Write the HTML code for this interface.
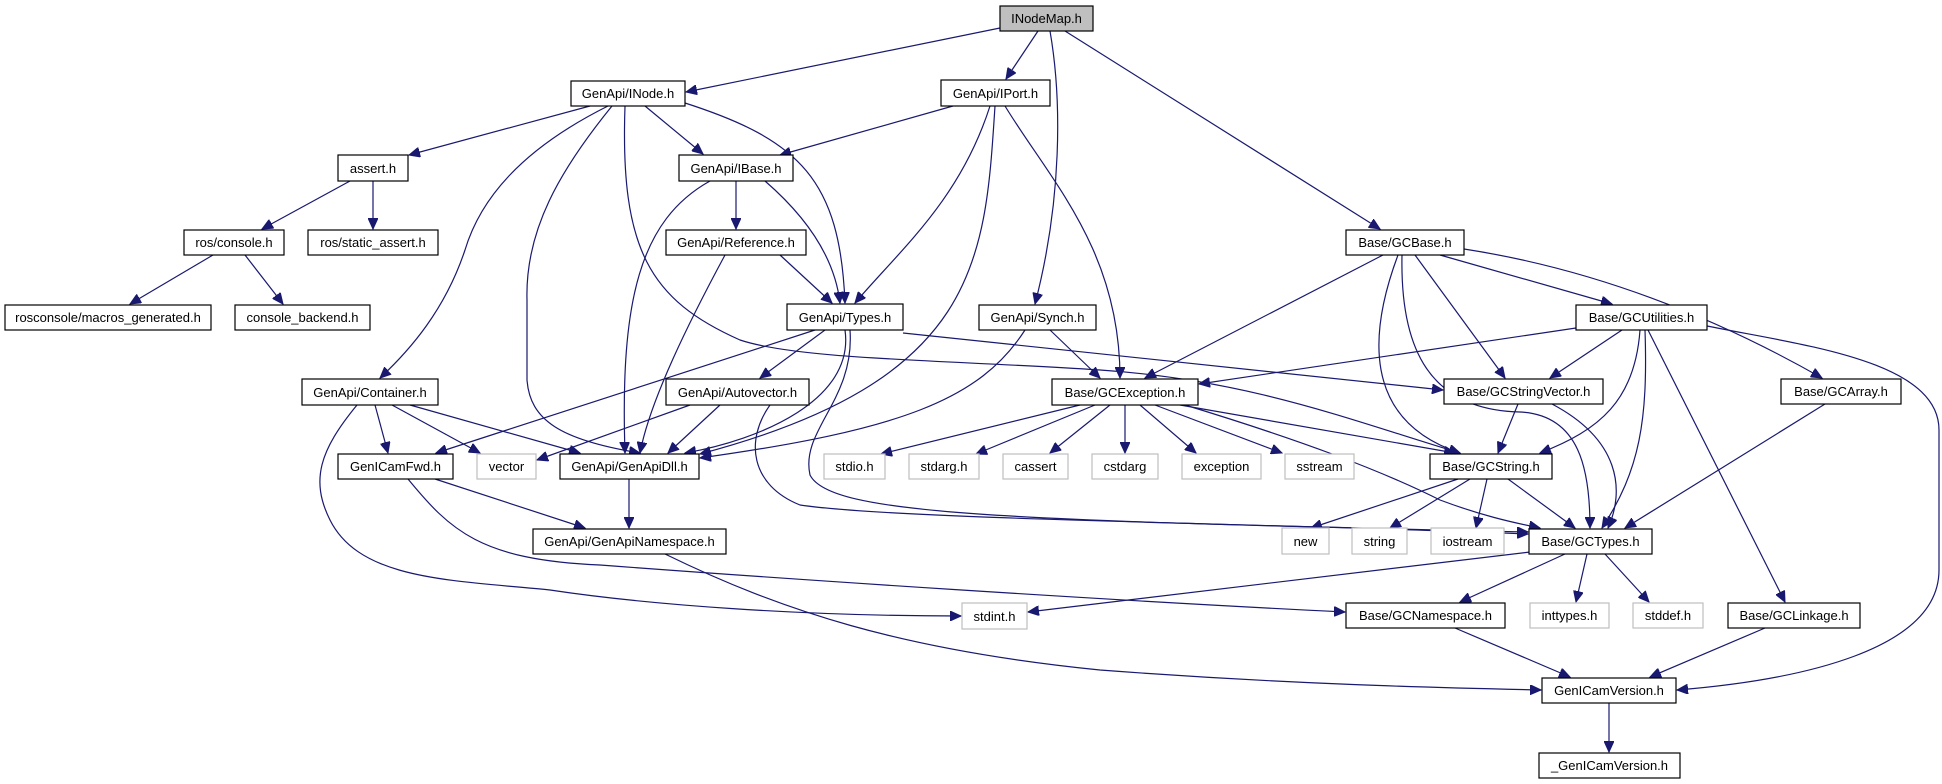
<!DOCTYPE html>
<html><head><meta charset="utf-8"><style>
html,body{margin:0;padding:0;background:#fff;}
svg{display:block;}
text{font-family:"Liberation Sans",Arial,sans-serif;font-size:13px;fill:#000;}
</style></head><body>
<svg width="1942" height="784" viewBox="0 0 1942 784" xmlns="http://www.w3.org/2000/svg">
<defs>
<marker id="a" markerUnits="userSpaceOnUse" markerWidth="12" markerHeight="10" refX="11" refY="5" orient="auto">
<path d="M0,0 L11,5 L0,10 z" fill="#191970" stroke="#191970"/>
</marker>
</defs>
<g fill="none" stroke="#191970" stroke-width="1.2" marker-end="url(#a)">
<path d="M1000,28 L686,92"/>
<path d="M1038,31 L1006,79"/>
<path d="M1050,31 C1062,100 1062,200 1035,304"/>
<path d="M1065,31 L1380,229"/>
<path d="M590,106 L409,155"/>
<path d="M645,106 L703,154"/>
<path d="M685,103 C800,140 840,180 845,303"/>
<path d="M608,106 C520,150 480,200 465,250 C445,310 410,350 380,378"/>
<path d="M612,106 C560,170 525,230 527,300 L527,380 C530,420 560,440 640,453"/>
<path d="M625,106 C620,250 650,300 740,340 C800,360 950,360 1100,370 C1250,380 1350,420 1460,453"/>
<path d="M953,106 L780,155"/>
<path d="M990,106 C960,200 900,250 855,303"/>
<path d="M995,106 C985,260 980,380 700,454"/>
<path d="M1005,106 C1050,180 1120,250 1120,378"/>
<path d="M736,181 L736,229"/>
<path d="M765,181 C810,220 835,260 840,303"/>
<path d="M710,181 C640,220 620,300 625,453"/>
<path d="M780,255 L832,303"/>
<path d="M725,255 C690,320 650,400 640,453"/>
<path d="M350,181 L262,229"/>
<path d="M373,181 L373,229"/>
<path d="M213,255 L130,304"/>
<path d="M245,255 L283,304"/>
<path d="M815,330 L436,453"/>
<path d="M825,330 L760,378"/>
<path d="M845,330 C855,400 760,440 685,453"/>
<path d="M850,330 C855,400 800,430 810,475 C830,515 1000,520 1528,532"/>
<path d="M903,333 L1443,390"/>
<path d="M690,405 L537,460"/>
<path d="M720,405 L668,453"/>
<path d="M770,405 C745,440 750,485 800,505 C900,520 1300,524 1528,534"/>
<path d="M375,405 L388,453"/>
<path d="M392,405 L480,453"/>
<path d="M410,405 L580,453"/>
<path d="M357,405 C320,450 310,480 330,520 C360,580 450,580 550,590 C650,605 800,616 961,616"/>
<path d="M435,479 L585,528"/>
<path d="M408,479 C450,530 480,560 600,565 C800,580 1100,600 1345,612"/>
<path d="M629,479 L629,528"/>
<path d="M665,554 C780,610 900,650 1100,670 C1300,685 1450,688 1541,690"/>
<path d="M1050,330 L1100,378"/>
<path d="M1025,330 C980,400 900,430 700,458"/>
<path d="M1383,255 L1145,378"/>
<path d="M1440,255 L1612,304"/>
<path d="M1415,255 L1505,378"/>
<path d="M1398,255 C1370,330 1360,420 1460,453"/>
<path d="M1402,255 C1400,350 1430,410 1520,412 C1580,415 1590,470 1590,528"/>
<path d="M1464,249 C1600,270 1720,320 1822,378"/>
<path d="M1576,328 L1199,384"/>
<path d="M1622,330 L1550,378"/>
<path d="M1640,330 C1635,400 1600,430 1540,453"/>
<path d="M1645,330 C1648,420 1640,470 1602,528"/>
<path d="M1648,330 L1785,602"/>
<path d="M1707,326 C1800,345 1939,360 1939,430 L1939,570 C1939,650 1800,680 1677,690"/>
<path d="M1518,404 L1498,453"/>
<path d="M1552,404 C1620,440 1625,490 1608,528"/>
<path d="M1825,404 L1625,528"/>
<path d="M1080,405 L881,454"/>
<path d="M1095,405 L976,454"/>
<path d="M1110,405 L1050,453"/>
<path d="M1125,405 L1125,453"/>
<path d="M1140,405 L1196,453"/>
<path d="M1155,405 L1282,453"/>
<path d="M1180,405 L1455,453"/>
<path d="M1185,405 C1300,440 1380,470 1440,500 C1480,515 1510,522 1540,528"/>
<path d="M1458,479 L1311,528"/>
<path d="M1470,479 L1390,528"/>
<path d="M1487,479 L1476,528"/>
<path d="M1508,479 L1575,528"/>
<path d="M1530,552 L1028,612"/>
<path d="M1565,554 L1460,602"/>
<path d="M1587,554 L1576,602"/>
<path d="M1605,554 L1649,602"/>
<path d="M1455,628 L1570,677"/>
<path d="M1765,628 L1650,677"/>
<path d="M1609,703 L1609,752"/>
</g>
<g stroke-width="1.2">
<g fill="#fff" stroke="#000">
<rect x="571" y="81" width="114" height="25"/>
<rect x="941" y="80" width="109" height="26"/>
<rect x="338" y="155" width="70" height="26"/>
<rect x="679" y="155" width="114" height="26"/>
<rect x="184" y="230" width="100" height="25"/>
<rect x="308" y="230" width="130" height="25"/>
<rect x="666" y="230" width="140" height="25"/>
<rect x="1346" y="230" width="118" height="25"/>
<rect x="5" y="305" width="206" height="25"/>
<rect x="235" y="305" width="135" height="25"/>
<rect x="787" y="304" width="116" height="26"/>
<rect x="979" y="305" width="117" height="25"/>
<rect x="1576" y="305" width="131" height="25"/>
<rect x="302" y="379" width="136" height="26"/>
<rect x="666" y="379" width="143" height="26"/>
<rect x="1052" y="379" width="146" height="26"/>
<rect x="1444" y="379" width="159" height="25"/>
<rect x="1781" y="379" width="120" height="25"/>
<rect x="338" y="454" width="115" height="25"/>
<rect x="560" y="454" width="139" height="25"/>
<rect x="1430" y="454" width="122" height="25"/>
<rect x="533" y="529" width="193" height="25"/>
<rect x="1529" y="529" width="123" height="25"/>
<rect x="1346" y="603" width="159" height="25"/>
<rect x="1728" y="603" width="132" height="25"/>
<rect x="1542" y="678" width="134" height="25"/>
<rect x="1539" y="753" width="141" height="25"/>
</g>
<rect x="1000" y="6" width="93" height="25" fill="#bfbfbf" stroke="#000"/>
<g fill="#fff" stroke="#bfbfbf">
<rect x="477" y="454" width="59" height="25"/>
<rect x="824" y="454" width="61" height="25"/>
<rect x="909" y="454" width="70" height="25"/>
<rect x="1003" y="454" width="65" height="25"/>
<rect x="1092" y="454" width="66" height="25"/>
<rect x="1182" y="454" width="79" height="25"/>
<rect x="1285" y="454" width="69" height="25"/>
<rect x="1282" y="528" width="47" height="26"/>
<rect x="1352" y="528" width="55" height="26"/>
<rect x="1431" y="528" width="73" height="26"/>
<rect x="962" y="603" width="65" height="26"/>
<rect x="1530" y="603" width="79" height="25"/>
<rect x="1633" y="603" width="70" height="25"/>
</g>
</g>
<g text-anchor="middle">
<text x="1046.5" y="23">INodeMap.h</text>
<text x="628" y="98">GenApi/INode.h</text>
<text x="995.5" y="98">GenApi/IPort.h</text>
<text x="373" y="173">assert.h</text>
<text x="736" y="173">GenApi/IBase.h</text>
<text x="234" y="247">ros/console.h</text>
<text x="373" y="247">ros/static_assert.h</text>
<text x="736" y="247">GenApi/Reference.h</text>
<text x="1405" y="247">Base/GCBase.h</text>
<text x="108" y="322">rosconsole/macros_generated.h</text>
<text x="302.5" y="322">console_backend.h</text>
<text x="845" y="322">GenApi/Types.h</text>
<text x="1037.5" y="322">GenApi/Synch.h</text>
<text x="1641.5" y="322">Base/GCUtilities.h</text>
<text x="370" y="397">GenApi/Container.h</text>
<text x="737.5" y="397">GenApi/Autovector.h</text>
<text x="1125" y="397">Base/GCException.h</text>
<text x="1523.5" y="396">Base/GCStringVector.h</text>
<text x="1841" y="396">Base/GCArray.h</text>
<text x="395.5" y="471">GenICamFwd.h</text>
<text x="506.5" y="471">vector</text>
<text x="629.5" y="471">GenApi/GenApiDll.h</text>
<text x="854.5" y="471">stdio.h</text>
<text x="944" y="471">stdarg.h</text>
<text x="1035.5" y="471">cassert</text>
<text x="1125" y="471">cstdarg</text>
<text x="1221.5" y="471">exception</text>
<text x="1319.5" y="471">sstream</text>
<text x="1491" y="471">Base/GCString.h</text>
<text x="1305.5" y="546">new</text>
<text x="1379.5" y="546">string</text>
<text x="1467.5" y="546">iostream</text>
<text x="629.5" y="546">GenApi/GenApiNamespace.h</text>
<text x="1590.5" y="546">Base/GCTypes.h</text>
<text x="994.5" y="621">stdint.h</text>
<text x="1425.5" y="620">Base/GCNamespace.h</text>
<text x="1569.5" y="620">inttypes.h</text>
<text x="1668" y="620">stddef.h</text>
<text x="1794" y="620">Base/GCLinkage.h</text>
<text x="1609" y="695">GenICamVersion.h</text>
<text x="1609.5" y="770">_GenICamVersion.h</text>
</g>
</svg>
</body></html>
